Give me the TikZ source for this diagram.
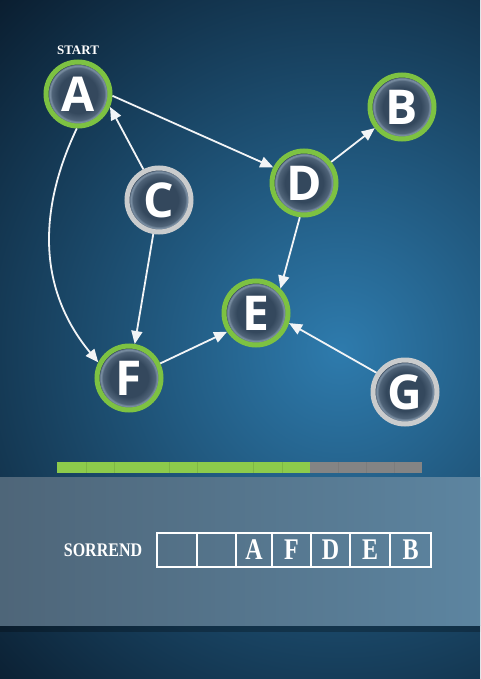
\documentclass[tikz,border=0pt]{standalone}
\usepackage{fontspec}
\setmainfont{Liberation Serif}
\newfontfamily\nodefont{Open Sans}
\usetikzlibrary{arrows.meta}
\definecolor{ringgreen}{HTML}{7DC242}
\definecolor{ringgrey}{HTML}{CACCCD}
\definecolor{barGreen}{HTML}{8DCB4B}
\definecolor{barGrey}{HTML}{848484}
\definecolor{nin}{HTML}{34485D}
\definecolor{nrim}{HTML}{7A8EA2}
\definecolor{ngap}{HTML}{24354A}
\definecolor{bgc}{HTML}{2E7BAD}
\definecolor{bgo}{HTML}{081828}
\definecolor{bandL}{HTML}{4E6578}
\definecolor{bandR}{HTML}{5D86A2}
\definecolor{linkc}{HTML}{F2F4F6}
\pgfdeclareradialshading{glass}{\pgfpoint{0bp}{0bp}}{color(0bp)=(nin); color(15bp)=(nin); color(20.5bp)=(nin!60!nrim); color(21.8bp)=(nrim); color(22.6bp)=(nrim); color(23.4bp)=(ngap); color(25bp)=(ngap); color(50bp)=(ngap)}
\tikzset{
  vtx/.style={circle, minimum size=64pt, inner sep=0pt, line width=5pt, draw=#1, shade, shading=glass,
    text=white, font=\nodefont\bfseries\fontsize{48}{48}\selectfont},
  link/.style={draw=linkc, line width=1.8pt, -{Triangle[length=13pt,width=11pt]}},
  cell/.style={draw=white, line width=1.5pt, minimum height=34pt, inner sep=0pt, text=white,
    font=\bfseries\fontsize{24}{24}\selectfont},
  lbl/.style={text=white, inner sep=0pt},
}
\begin{document}
\begin{tikzpicture}[x=1pt,y=1pt]
\useasboundingbox (0,0) rectangle (480,-679);
% background
\begin{scope}
\clip (0,0) rectangle (480,-679);
\shade[inner color=bgc, outer color=bgo] (340,-350) circle (520);
% band
\fill[black, opacity=0.25] (-10,-625) rectangle (490,-632);
\shade[left color=bandL, right color=bandR] (-10,-477) rectangle (500,-625);
\end{scope}
% progress bar
\fill[barGrey] (57,-462) rectangle (422,-473);
\fill[barGreen] (57,-462) rectangle (310,-473);
\foreach \xx in {86,114,169,197,253,282}{\draw[black!10!barGreen, line width=0.4pt] (\xx,-462) -- (\xx,-473);}
\foreach \xx in {338,366,394}{\draw[black!6!barGrey, line width=0.4pt] (\xx,-462) -- (\xx,-473);}
% nodes
\node[vtx=ringgreen] (A) at (78,-94) {A};
\node[vtx=ringgreen] (B) at (402,-107) {B};
\node[vtx=ringgrey]  (C) at (159,-200) {C};
\node[vtx=ringgreen] (D) at (304,-183) {D};
\node[vtx=ringgreen] (E) at (256,-313) {E};
\node[vtx=ringgreen] (F) at (129,-378) {F};
\node[vtx=ringgrey]  (G) at (405,-392) {G};
\node[lbl, font=\bfseries\fontsize{13}{13}\selectfont] (start) at (78,-50) {START};
% links
\draw[link] (A.-3) -- (D.153);
\draw[link] (D) -- (B);
\draw[link] (C.117) -- (A.-22);
\draw[link] (C) -- (F);
\draw[link] (A.-92) .. controls (45,-195) and (30,-280) .. (F.153);
\draw[link] (D.-97) -- (E.45);
\draw[link] (F.25) -- (E.213);
\draw[link] (G.146) -- (E.-17);
% order row
\node[lbl, font=\bfseries\fontsize{16}{16}\selectfont] (sorrend) at (103,-550) {\scalebox{1}[1.2]{SORREND}};
\node[cell, minimum width=40pt] (s1) at (177,-550) {};
\node[cell, minimum width=39pt] (s2) at (216.5,-550) {};
\node[cell, minimum width=36pt] (s3) at (254,-550) {\scalebox{1}[1.25]{A}};
\node[cell, minimum width=39pt] (s4) at (291.5,-550) {\scalebox{1}[1.25]{F}};
\node[cell, minimum width=39pt] (s5) at (330.5,-550) {\scalebox{1}[1.25]{D}};
\node[cell, minimum width=40pt] (s6) at (370,-550) {\scalebox{1}[1.25]{E}};
\node[cell, minimum width=41pt] (s7) at (410.5,-550) {\scalebox{1}[1.25]{B}};
\end{tikzpicture}
\end{document}
